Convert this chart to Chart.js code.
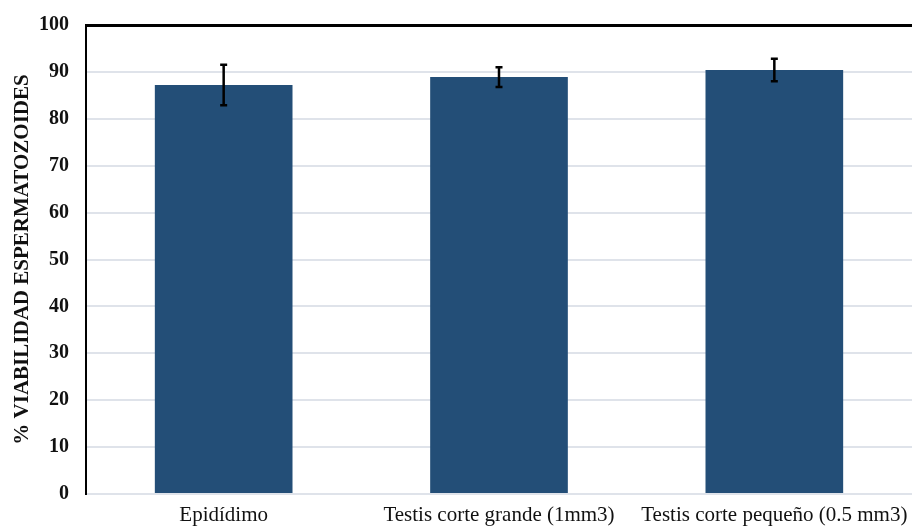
<!DOCTYPE html>
<html>
<head>
<meta charset="utf-8">
<script src="https://cdn.jsdelivr.net/npm/chart.js@4/dist/chart.umd.min.js"></script>
<style>
    html, body { margin: 0; padding: 0; background: #fff; }
    #contenedor { width: 912px; height: 527px; }
</style>
</head>
<body>
<div id="contenedor"><canvas id="graficaViabilidad"></canvas></div>
<script>
// Datos
const categorias = ['Epidídimo', 'Testis corte grande (1mm3)', 'Testis corte pequeño (0.5 mm3)'];
const promedios = [87.2, 88.9, 90.4];
const errores = [4.3, 2.1, 2.4];
const ticksY = [0, 10, 20, 30, 40, 50, 60, 70, 80, 90, 100];

// Dibuja las barras de error encima de cada barra
const barrasError = {
    id: 'barrasError',
    afterDatasetsDraw(chart) {
        const ctx = chart.ctx;
        const y = chart.scales.y;
        const meta = chart.getDatasetMeta(0);
        ctx.save();
        ctx.strokeStyle = '#000';
        ctx.lineWidth = 2.5;
        meta.data.forEach((barra, i) => {
            const arriba = y.getPixelForValue(promedios[i] + errores[i]);
            const abajo = y.getPixelForValue(promedios[i] - errores[i]);
            ctx.beginPath();
            ctx.moveTo(barra.x, arriba);
            ctx.lineTo(barra.x, abajo);
            ctx.moveTo(barra.x - 3.5, arriba);
            ctx.lineTo(barra.x + 3.5, arriba);
            ctx.moveTo(barra.x - 3.5, abajo);
            ctx.lineTo(barra.x + 3.5, abajo);
            ctx.stroke();
        });
        ctx.restore();
    }
};

const ctx = document.getElementById('graficaViabilidad').getContext('2d');
new Chart(ctx, {
    type: 'bar',
    data: {
        labels: categorias,
        datasets: [{
            data: promedios,
            backgroundColor: '#234e77',
            borderWidth: 0,
            categoryPercentage: 1,
            barPercentage: 0.5
        }]
    },
    options: {
        responsive: true,
        maintainAspectRatio: false,
        animation: false,
        layout: { padding: { top: 10, right: 0, left: 0, bottom: 0 } },
        plugins: {
            legend: { display: false },
            tooltip: { enabled: false }
        },
        scales: {
            x: {
                grid: { display: false },
                border: { display: false },
                ticks: {
                    color: '#111',
                    font: { family: 'Liberation Serif', size: 21 },
                    padding: 1,
                    maxRotation: 0
                },
                afterFit(scale) { scale.height = 33; }
            },
            y: {
                min: 0,
                max: 100,
                afterBuildTicks(scale) {
                    scale.ticks = ticksY.map(v => ({ value: v }));
                },
                grid: {
                    drawTicks: false,
                    color: c => c.tick && c.tick.value === 100 ? '#000' : '#dfe3ea',
                    lineWidth: c => c.tick && c.tick.value === 100 ? 3 : 2
                },
                border: { color: '#000', width: 2 },
                ticks: {
                    color: '#111',
                    padding: 17,
                    font: { family: 'Liberation Serif', size: 20, weight: 'bold', lineHeight: 0.8 }
                },
                title: {
                    display: true,
                    text: '% VIABILIDAD ESPERMATOZOIDES',
                    color: '#111',
                    font: { family: 'Liberation Serif', size: 21, weight: 'bold' },
                    padding: { top: 10, bottom: 0 }
                },
                afterFit(scale) { scale.width = 86; }
            }
        }
    },
    plugins: [barrasError]
});
</script>
</body>
</html>
